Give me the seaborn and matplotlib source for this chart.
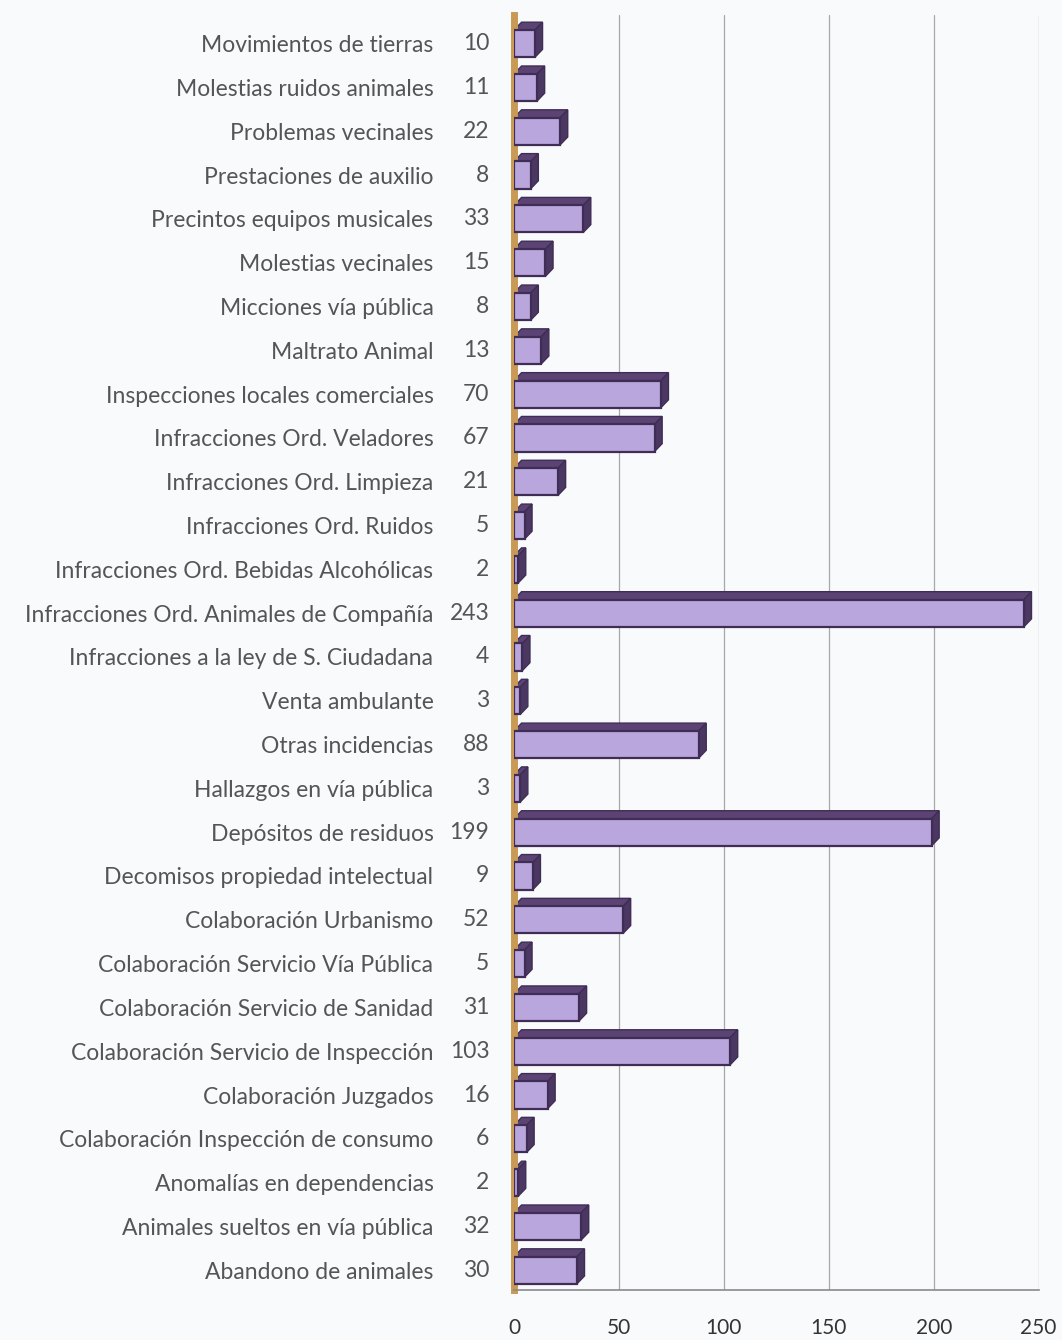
import numpy as np
import pandas as pd
import matplotlib
matplotlib.use("Agg")
import matplotlib.pyplot as plt
from matplotlib.patches import Polygon
import matplotlib.transforms as mtransforms
import seaborn as sns

categories = [
    "Movimientos de tierras",
    "Molestias ruidos animales",
    "Problemas vecinales",
    "Prestaciones de auxilio",
    "Precintos equipos musicales",
    "Molestias vecinales",
    "Micciones vía pública",
    "Maltrato Animal",
    "Inspecciones locales comerciales",
    "Infracciones Ord. Veladores",
    "Infracciones Ord. Limpieza",
    "Infracciones Ord. Ruidos",
    "Infracciones Ord. Bebidas Alcohólicas",
    "Infracciones Ord. Animales de Compañía",
    "Infracciones a la ley de S. Ciudadana",
    "Venta ambulante",
    "Otras incidencias",
    "Hallazgos en vía pública",
    "Depósitos de residuos",
    "Decomisos propiedad intelectual",
    "Colaboración Urbanismo",
    "Colaboración Servicio Vía Pública",
    "Colaboración Servicio de Sanidad",
    "Colaboración Servicio de Inspección",
    "Colaboración Juzgados",
    "Colaboración Inspección de consumo",
    "Anomalías en dependencias",
    "Animales sueltos en vía pública",
    "Abandono de animales",
]
values = [10, 11, 22, 8, 33, 15, 8, 13, 70, 67, 21, 5, 2, 243, 4, 3, 88, 3,
          199, 9, 52, 5, 31, 103, 16, 6, 2, 32, 30]
x_ticks = [0, 50, 100, 150, 200, 250]

df = pd.DataFrame({"cat": categories, "val": values})

sns.set_theme(style="white")
plt.rcParams["font.family"] = ["Lato", "DejaVu Sans"]

bg = "#f9fafc"
fig = plt.figure(figsize=(10.62, 13.40), dpi=100, facecolor=bg)
ax = fig.add_axes([0.484, 0.037, 0.494, 0.952])
ax.set_facecolor(bg)

front = "#b9a6dc"
edge = "#3f2d55"
sns.barplot(data=df, x="val", y="cat", orient="h", color=front, width=0.62,
            edgecolor=edge, linewidth=1.6, saturation=1, ax=ax)

ax.set_xlim(0, 250)
ax.set_ylim(len(categories) - 1 + 0.46, -0.66)

# 3D-looking depth on each bar
dx, dy = 3.6, 0.18
for p in ax.patches:
    x0, y0 = p.get_x(), p.get_y()
    w, h = p.get_width(), p.get_height()
    top = Polygon([(x0, y0), (x0 + w, y0), (x0 + w + dx, y0 - dy), (x0 + dx, y0 - dy)],
                  closed=True, facecolor="#5b4474", edgecolor=edge, linewidth=1.0, zorder=2)
    side = Polygon([(x0 + w, y0), (x0 + w + dx, y0 - dy), (x0 + w + dx, y0 + h - dy), (x0 + w, y0 + h)],
                   closed=True, facecolor="#4b3862", edgecolor=edge, linewidth=1.0, zorder=2)
    ax.add_patch(top)
    ax.add_patch(side)
    p.set_zorder(3)

# gridlines
ax.set_xticks(x_ticks)
for xv in x_ticks[1:]:
    ax.axvline(xv, color="#a8a8a8", linewidth=0.9, zorder=0)

for s in ["top", "right"]:
    ax.spines[s].set_visible(False)
ax.spines["left"].set_color("#c89a55")
ax.spines["left"].set_linewidth(5)
ax.spines["bottom"].set_color("#8a8a8a")
ax.spines["bottom"].set_linewidth(1.2)

ax.set_xlabel("")
ax.set_ylabel("")
ax.tick_params(axis="x", length=0, pad=20, labelsize=15, labelcolor="#333333")
ax.tick_params(axis="y", length=0, pad=58, labelsize=16.5, labelcolor="#555555")
ax.set_yticks(range(len(categories)))
ax.set_yticklabels(categories)

# value labels next to category names
trans = mtransforms.blended_transform_factory(ax.transAxes, ax.transData)
for i, v in enumerate(values):
    ax.text(-0.047, i, str(v), transform=trans, ha="right", va="center",
            fontsize=16.5, color="#555555")

fig.savefig("out.png", dpi=100, facecolor=bg)
